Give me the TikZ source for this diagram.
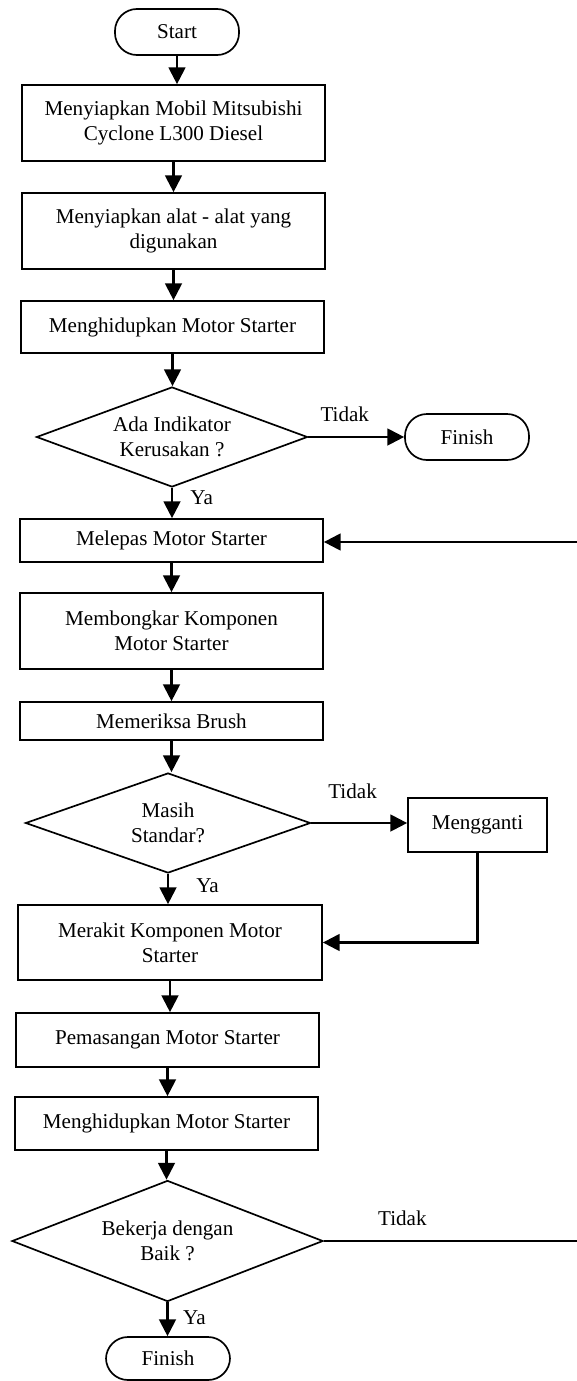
\documentclass[tikz,border=0pt]{standalone}
\usepackage{fontspec}
\setmainfont{Liberation Serif}
\usetikzlibrary{arrows.meta,shapes.geometric}

\begin{document}
\begin{tikzpicture}[x=0.025cm, y=-0.025cm,
	every node/.style={font=\fontsize{15}{17.8}\selectfont},
	>={Triangle[length=0.42cm, width=0.42cm]},
	proses/.style={draw, line width=1.2pt, minimum width=7.575cm, align=center, inner sep=0pt},
	ujung/.style={draw, line width=1.2pt, rounded corners=0.55cm, minimum width=3.1cm, minimum height=1.15cm},
	keputusan/.style={draw, diamond, line width=1.2pt, aspect=2.7, align=center, inner sep=0pt},
	panah/.style={->, line width=1.6pt}]
	\useasboundingbox (0,0) rectangle (577,1381);
	% alur utama
	\node[ujung] (start) at (177,32) {Start};
	\node[proses, minimum height=1.9cm] (b1) at (173.5,123) {Menyiapkan Mobil Mitsubishi\\Cyclone L300 Diesel};
	\node[proses, minimum height=1.9cm] (b2) at (173.5,231) {Menyiapkan alat - alat yang\\digunakan};
	\node[proses, minimum height=1.3cm] (b3) at (172.5,327) {Menghidupkan Motor Starter};
	\node[keputusan, minimum width=6.775cm, minimum height=2.5cm] (d1) at (172,437) {Ada Indikator\\Kerusakan ?};
	\node[ujung] (f1) at (467,437) {Finish};
	\node[proses, minimum height=1.075cm] (b4) at (171.5,540.5) {Melepas Motor Starter};
	\node[proses, minimum height=1.9cm] (b5) at (171.5,631) {Membongkar Komponen\\Motor Starter};
	\node[proses, minimum height=0.95cm] (b6) at (171.5,721) {Memeriksa Brush};
	\node[keputusan, minimum width=7.125cm, minimum height=2.5cm] (d2) at (168,823) {Masih\\Standar?};
	\node[proses, minimum width=3.475cm, minimum height=1.35cm] (ganti) at (477.5,825) {Mengganti};
	\node[proses, minimum width=7.6cm, minimum height=1.875cm] (b7) at (170,942.5) {Merakit Komponen Motor\\Starter};
	\node[proses, minimum height=1.35cm] (b8) at (167.5,1040) {Pemasangan Motor Starter};
	\node[proses, minimum height=1.325cm] (b9) at (166.5,1123.5) {Menghidupkan Motor Starter};
	\node[keputusan, minimum width=7.775cm, minimum height=3.025cm] (d3) at (167.5,1241) {Bekerja dengan\\Baik ?};
	\node[ujung, minimum height=1.075cm] (f2) at (168,1358.5) {Finish};
	\coordinate (kanan1) at (577,1241);
	\coordinate (kanan2) at (577,542);

	\foreach \a/\b in {start/b1, b1/b2, b2/b3, b3/d1, b4/b5, b5/b6, b6/d2, b7/b8, b8/b9, b9/d3}
		\draw[panah] (\a.south) -- (\a.south |- \b.north);
	\draw[panah] (d1.south) -- node[right=9pt, pos=0.34] {Ya} (d1.south |- b4.north);
	\draw[panah] (d2.south) -- node[right=16pt, pos=0.38] {Ya} (d2.south |- b7.north);
	\draw[panah] (d3.south) -- node[right=7pt, pos=0.44] {Ya} (d3.south |- f2.north);

	% cabang tidak
	\draw[panah] (d1.east) -- node[above=7pt, pos=0.38] {Tidak} (f1.west);
	\draw[panah] (d2.east) -- node[above=13pt, pos=0.43] {Tidak} (d2.east -| ganti.west);
	\draw[panah] (ganti.south) |- (b7.east);
	\draw[line width=1.6pt] (d3.east) -- node[above=7pt, pos=0.31] {Tidak} (kanan1);
	\draw[panah] (kanan2) -- (kanan2 -| b4.east);
\end{tikzpicture}
\end{document}
